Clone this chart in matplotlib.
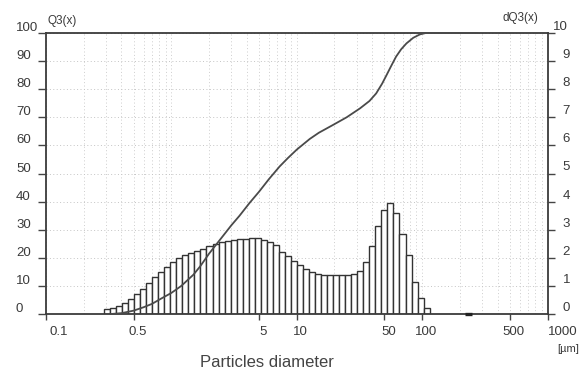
import numpy as np
import matplotlib
matplotlib.use("Agg")
import matplotlib.pyplot as plt
from matplotlib import font_manager
from matplotlib.transforms import blended_transform_factory, ScaledTranslation
from matplotlib.ticker import LogLocator, NullFormatter

# ---------------- data ----------------
# size-class edges (µm) of the histogram
class_edges = [0.290, 0.324, 0.362, 0.404, 0.452, 0.505, 0.564, 0.630, 0.704, 0.786,
               0.878, 0.981, 1.096, 1.224, 1.367, 1.527, 1.706, 1.906, 2.129, 2.379,
               2.657, 2.969, 3.316, 3.705, 4.139, 4.624, 5.165, 5.770, 6.446, 7.201,
               8.044, 8.987, 10.04, 11.22, 12.53, 14.00, 15.64, 17.47, 19.51, 21.80,
               24.35, 27.20, 30.39, 33.95, 37.92, 42.37, 47.33, 52.87, 59.06, 65.98,
               73.71, 82.34, 91.99, 102.8, 114.8]
# density dQ3(x) per class (right axis)
dq3 = [0.18, 0.23, 0.30, 0.40, 0.53, 0.70, 0.90, 1.12, 1.32, 1.49,
       1.67, 1.86, 1.99, 2.10, 2.18, 2.24, 2.33, 2.42, 2.49, 2.55,
       2.60, 2.63, 2.66, 2.68, 2.70, 2.70, 2.63, 2.55, 2.44, 2.22,
       2.06, 1.89, 1.74, 1.60, 1.50, 1.42, 1.39, 1.38, 1.38, 1.38,
       1.38, 1.41, 1.53, 1.84, 2.43, 3.13, 3.70, 3.94, 3.58, 2.85,
       2.10, 1.15, 0.56, 0.20]
# small residual class near 230 µm
tail_class = [220, 250]

# cumulative Q3(x) (left axis)
cum_size = [0.33, 0.4, 0.5, 0.6, 0.7, 0.83, 1.0, 1.2, 1.5, 1.7, 2.0, 2.5, 3.0, 3.5,
            4.2, 5.0, 6.0, 7.3, 8.5, 10, 12.7, 15, 19.5, 25, 32, 38, 43, 48, 52, 57,
            62, 68, 75, 85, 96, 107, 275]
cum_q3 = [0, 0.3, 1.2, 2.4, 3.6, 5.5, 7.5, 10, 14, 17, 21.5, 27, 31.5, 35,
          39.5, 43.5, 48, 52.5, 55.5, 58.5, 62.3, 64.5, 67.3, 70, 73.2, 75.8, 78.5, 82, 85, 88.5,
          91.6, 94.2, 96.3, 98.3, 99.5, 100, 100]

x_ticks = [0.1, 0.5, 5, 10, 50, 100, 500, 1000]
x_tick_labels = ["0.1", "0.5", "5", "10", "50", "100", "500", "1000"]
left_ticks = [0, 10, 20, 30, 40, 50, 60, 70, 80, 90, 100]
left_labels = [str(v) for v in left_ticks]
right_ticks = [0, 1, 2, 3, 4, 5, 6, 7, 8, 9, 10]
right_labels = [str(v) for v in right_ticks]

# ---------------- fonts ----------------
names = {f.name for f in font_manager.fontManager.ttflist}
narrow = "Liberation Sans Narrow" if "Liberation Sans Narrow" in names else "Liberation Sans"
tcol = "#3a3a3a"

fig = plt.figure(figsize=(5.86, 3.79), dpi=100)
W, H = 586, 379
ax = fig.add_axes([46 / W, 1 - 314 / H, (547.5 - 46) / W, (314 - 33) / H])
ax2 = ax.twinx()
ax.yaxis.tick_right()
ax2.yaxis.tick_left()


def px(dx, dy):
    return ScaledTranslation(dx / 100, dy / 100, fig.dpi_scale_trans)


# ---------------- histogram (right scale) ----------------
ax.set_xscale("log")
ax.set_xlim(0.1, 1000)
ax.set_ylim(0, 10)
edges = np.array(class_edges)
ax.bar(edges[:-1], dq3, width=np.diff(edges), align="edge", color="white",
       edgecolor="#333333", linewidth=1.0, zorder=2)
ax.plot(tail_class, [0, 0], color="#222222", lw=2.4, solid_capstyle="butt",
        zorder=3, clip_on=False)

ax.set_xticks(x_ticks)
ax.xaxis.set_minor_locator(LogLocator(base=10, subs=np.arange(1, 10), numticks=100))
ax.xaxis.set_minor_formatter(NullFormatter())
ax.tick_params(axis="x", which="major", direction="out", length=4, width=1,
               color="#444444", labelbottom=False)
ax.tick_params(axis="x", which="minor", length=0)
ax.set_yticks(right_ticks)
ax.tick_params(axis="y", which="both", direction="out", length=5, width=1,
               color="#444444", labelright=False, labelleft=False, left=False, right=True)

ax.set_axisbelow(True)
ax.grid(axis="x", which="both", color="#cdcdcd", lw=0.7, linestyle=(0, (1, 2.5)))
ax.grid(axis="y", which="major", color="#c4c4c4", lw=0.7, linestyle=(0, (1, 2.5)))

for s in ax.spines.values():
    s.set_color("#3a3a3a")
    s.set_linewidth(1.3)

# ---------------- cumulative (left scale) ----------------
ax2.set_ylim(0, 100)
ax2.plot(cum_size, cum_q3, color="#4a4a4a", lw=1.3, clip_on=False, zorder=3)
ax2.set_yticks(left_ticks)
ax2.tick_params(axis="y", direction="out", length=6, width=1, color="#444444",
                labelleft=False, labelright=False, left=True, right=False)
for s in ax2.spines.values():
    s.set_visible(False)

# ---------------- tick labels ----------------
tk = dict(fontsize=9.5, color=tcol, family=narrow)
bl = blended_transform_factory(ax2.transAxes, ax2.transData)
for v, lab in zip(left_ticks, left_labels):
    ax2.text(0, v, lab, transform=bl + px(-30, 2), ha="left", va="baseline", **tk)

br = blended_transform_factory(ax.transAxes, ax.transData)
for v, lab in zip(right_ticks, right_labels):
    if lab == "10":
        ax.text(1, v, lab, transform=br + px(5, 3), ha="left", va="baseline", **tk)
    else:
        ax.text(1, v, lab, transform=br + px(15, 3), ha="left", va="baseline", **tk)

bx = blended_transform_factory(ax.transData, ax.transAxes)
for v, lab in zip(x_ticks, x_tick_labels):
    if lab == "0.1":
        ax.text(v, 0, lab, transform=bx + px(3, -21), ha="left", va="baseline", **tk)
    elif lab == "1000":
        ax.text(v, 0, lab, transform=bx + px(0, -21), ha="left", va="baseline", **tk)
    else:
        ax.text(v, 0, lab, transform=bx + px(4, -21), ha="center", va="baseline", **tk)

# ---------------- other text ----------------
fig.text(48 / W, 1 - 24 / H, "Q3(x)", fontsize=8.5, color=tcol, family=narrow,
         ha="left", va="baseline")
fig.text(538 / W, 1 - 21 / H, "dQ3(x)", fontsize=8.5, color=tcol, family=narrow,
         ha="right", va="baseline")
fig.text(568 / W, 1 - 352 / H, "[µm]", fontsize=8, color=tcol, family=narrow,
         ha="center", va="baseline")
fig.text(267 / W, 1 - 367 / H, "Particles diameter", fontsize=12, color="#444444",
         family="Liberation Sans", ha="center", va="baseline")

fig.savefig("out.png", dpi=100)
